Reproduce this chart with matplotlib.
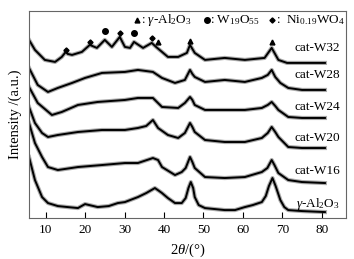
import matplotlib
matplotlib.use("Agg")
import matplotlib.pyplot as plt

plt.rcParams["font.family"] = ["Liberation Serif", "DejaVu Sans"]
plt.rcParams["mathtext.fontset"] = "custom"
plt.rcParams["mathtext.rm"] = "Liberation Serif"
plt.rcParams["mathtext.it"] = "Liberation Serif:italic"

# XRD patterns (2theta, stacked intensity in a.u.)
tt_al = [5.8, 7.3, 9.1, 10.6, 13.1, 15.6, 18.2, 20.0, 23.2, 26.0, 28.3, 30.1, 33.4, 35.5, 37.7, 38.8,
         39.5, 41.0, 42.8, 44.5, 45.5, 46.2, 46.8, 47.4, 47.8, 48.8, 50.4, 55.4, 58.0, 60.5, 62.5, 64.8,
         65.8, 66.6, 67.5, 68.3, 69.5, 70.5, 71.5, 75.0, 80.8]
i_al = [61, 38, 21, 15, 12, 11, 10, 14, 11, 12, 15, 16, 21, 25, 30, 27,
        25, 20, 15, 15, 20, 30, 36, 30, 21, 13, 10, 8, 8, 11, 13, 16,
        22, 32, 40, 32, 18, 11, 8, 7, 6]

tt_w16 = [5.8, 7.3, 9.1, 10.6, 13.1, 18.2, 24.3, 30.1, 33.4, 37.2, 38.5, 39.5, 42.8, 44.5, 45.5, 46.6,
          47.2, 47.8, 50.4, 55.4, 60.5, 64.8, 66.2, 67.3, 68.0, 69.0, 71.5, 75.0, 80.8]
i_w16 = [95, 75, 61, 51, 48, 51, 53, 55, 55, 60, 58, 51, 43, 46, 50, 61,
         56, 50, 41, 40, 41, 46, 50, 58, 53, 45, 38, 36, 35]

tt_w20 = [5.8, 7.3, 9.1, 10.6, 13.1, 18.2, 24.3, 30.1, 33.4, 35.5, 37.2, 38.5, 41.0, 43.6, 45.3, 46.6,
          47.2, 47.8, 50.4, 55.4, 60.5, 64.8, 66.3, 67.3, 68.2, 69.0, 71.5, 75.0, 80.8]
i_w20 = [111, 95, 85, 81, 83, 86, 88, 88, 90, 92, 98, 90, 83, 80, 85, 95,
         91, 86, 78, 76, 76, 80, 85, 91, 86, 81, 71, 70, 70]

tt_w24 = [5.8, 8.0, 11.6, 14.1, 18.2, 23.2, 30.1, 33.4, 37.2, 39.5, 43.6, 45.3, 46.6, 47.2, 47.8, 50.4,
          55.4, 60.5, 64.8, 66.3, 67.3, 68.2, 69.0, 71.5, 75.0, 80.8]
i_w24 = [131, 115, 103, 106, 113, 116, 118, 120, 120, 111, 110, 115, 121, 118, 113, 108,
         108, 108, 110, 113, 116, 112, 108, 101, 100, 100]

tt_w28 = [5.8, 8.0, 10.6, 13.1, 16.7, 20.0, 24.3, 30.1, 33.4, 37.2, 39.5, 42.8, 45.3, 46.6, 47.2, 47.8,
          50.4, 55.4, 60.5, 64.8, 66.3, 67.3, 68.2, 69.5, 71.5, 75.0, 80.8]
i_w28 = [150, 133, 126, 130, 135, 140, 145, 146, 148, 146, 140, 135, 138, 148, 144, 141,
         136, 138, 136, 140, 143, 148, 141, 135, 130, 128, 128]

tt_w32 = [5.8, 7.3, 9.8, 12.4, 14.1, 15.1, 15.6, 16.7, 19.2, 21.2, 23.0, 25.0, 26.8, 28.8, 30.1, 31.4,
          32.4, 34.7, 36.9, 38.0, 41.0, 43.6, 45.8, 46.6, 47.8, 50.4, 55.4, 60.5, 65.5, 67.3, 69.0,
          71.2, 75.0, 80.8]
i_w32 = [178, 168, 158, 156, 161, 166, 164, 163, 166, 173, 170, 178, 171, 181, 171, 170,
         176, 170, 175, 171, 161, 161, 165, 173, 165, 158, 160, 158, 160, 170, 158,
         155, 155, 155]

curves = [
    (tt_al, i_al, r"$\gamma$-Al$_2$O$_3$", 14),
    (tt_w16, i_w16, "cat-W16", 47),
    (tt_w20, i_w20, "cat-W20", 80),
    (tt_w24, i_w24, "cat-W24", 111),
    (tt_w28, i_w28, "cat-W28", 143),
    (tt_w32, i_w32, "cat-W32", 170),
]

# phase markers above cat-W32
tri_tt = [38.5, 46.6, 67.3]
tri_i = [176, 177, 176]
circ_tt = [25.0, 32.4]
circ_i = [187, 185]
dia_tt = [15.1, 21.2, 28.8, 36.9]
dia_i = [168, 176, 185, 180]

fig = plt.figure(figsize=(3.54, 2.59), dpi=100)
ax = fig.add_axes([0.082, 0.158, 0.895, 0.8])

for tt, inten, name, ly in curves:
    ax.plot(tt, inten, color="#444444", lw=3.0, alpha=0.45, solid_joinstyle="round")
    ax.plot(tt, inten, color="black", lw=1.4)
    ax.text(0.981, ly, name, transform=ax.get_yaxis_transform(), ha="right", va="center", fontsize=9.5)

ax.plot(tri_tt, tri_i, "^", color="black", ms=3.5, ls="none")
ax.plot(circ_tt, circ_i, "o", color="black", ms=4, ls="none")
ax.plot(dia_tt, dia_i, "D", color="black", ms=2.6, ls="none")

# legend-like header
ax.plot([0.341], [0.957], "^", color="black", ms=3.5, transform=ax.transAxes, clip_on=False)
ax.text(0.352, 0.957, r": $\gamma$-Al$_2$O$_3$", transform=ax.transAxes, va="center", fontsize=9.5)
ax.plot([0.562], [0.957], "o", color="black", ms=4, transform=ax.transAxes, clip_on=False)
ax.text(0.572, 0.957, r": W$_{19}$O$_{55}$", transform=ax.transAxes, va="center", fontsize=9.5)
ax.plot([0.767], [0.957], "D", color="black", ms=2.6, transform=ax.transAxes, clip_on=False)
ax.text(0.778, 0.957, r":  Ni$_{0.19}$WO$_4$", transform=ax.transAxes, va="center", fontsize=9.5)

ax.set_xlim(5.8, 86.1)
ax.set_ylim(0, 207)
ax.set_xticks([10, 20, 30, 40, 50, 60, 70, 80])
ax.set_yticks([])
ax.tick_params(axis="x", direction="in", length=4, width=0.8, labelsize=9.5, pad=4)
for sp in ax.spines.values():
    sp.set_color("#666666")
    sp.set_linewidth(0.8)

ax.set_xlabel(r"2$\theta$/(°)", fontsize=10.5, labelpad=4)
ax.set_ylabel("Intensity /(a.u.)", fontsize=10.5, labelpad=5)

fig.savefig("out.png", dpi=100)
